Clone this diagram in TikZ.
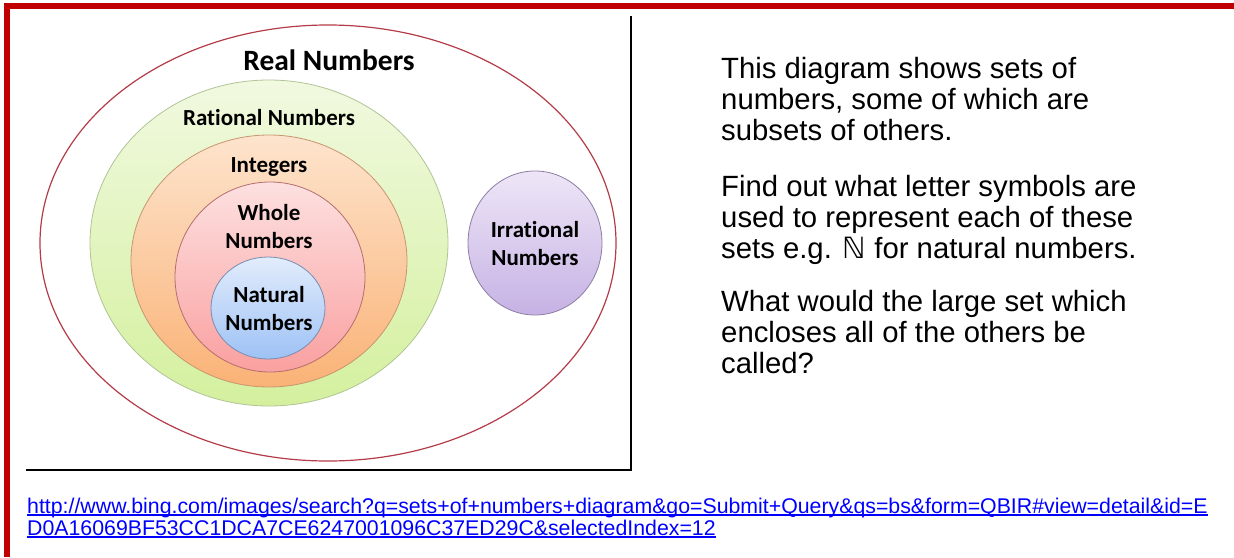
\documentclass[tikz,border=0pt]{standalone}
\usepackage{fontspec}
\setmainfont{Liberation Sans}
\newfontfamily\calfont{Carlito}[Ligatures=NoCommon]
\newfontfamily\djv{DejaVu Sans}
\usetikzlibrary{shapes.geometric}
\definecolor{frame}{RGB}{192,0,0}
\definecolor{realedge}{RGB}{180,60,72}
\definecolor{gtop}{RGB}{241,249,224}
\definecolor{gbot}{RGB}{212,240,158}
\definecolor{gedge}{RGB}{176,196,150}
\definecolor{otop}{RGB}{253,228,205}
\definecolor{obot}{RGB}{250,178,118}
\definecolor{oedge}{RGB}{200,150,110}
\definecolor{ptop}{RGB}{253,224,224}
\definecolor{pbot}{RGB}{250,160,160}
\definecolor{pedge}{RGB}{180,110,110}
\definecolor{btop}{RGB}{226,236,252}
\definecolor{bbot}{RGB}{158,194,245}
\definecolor{bedge}{RGB}{120,140,175}
\definecolor{vtop}{RGB}{238,230,247}
\definecolor{vbot}{RGB}{198,178,228}
\definecolor{vedge}{RGB}{140,125,165}
\definecolor{link}{RGB}{0,0,255}
\tikzset{
  setshape/.style={ellipse, inner sep=0pt, line width=0.8pt},
  lab/.style={font=\calfont\bfseries\fontsize{23}{28}\selectfont, align=center, anchor=base, inner sep=0pt},
  body/.style={font=\fontsize{29.3}{31.3}\selectfont, align=left, anchor=base west, inner sep=0pt},
  url/.style={font=\fontsize{21.3}{24}\selectfont, text=link, anchor=base west, inner sep=0pt},
}
\begin{document}
\begin{tikzpicture}[x=1pt,y=-1pt]
\useasboundingbox[fill=white] (0,0) rectangle (1234,557);
% red frame
\fill[frame] (4,3) rectangle (1234,8.5);
\fill[frame] (4,3) rectangle (9.5,557);
% picture frame lines
\coordinate (ftop) at (631,16);
\coordinate (fcorner) at (631,470);
\coordinate (fleft) at (26,470);
\draw[line width=1.3pt] (ftop) -- (fcorner) -- (fleft);
% sets
\node[setshape, draw=realedge, line width=1.2pt, minimum width=576pt, minimum height=436pt] (real) at (328,243) {};
\node[setshape, draw=gedge, top color=gtop, bottom color=gbot, minimum width=358pt, minimum height=326pt] (rational) at (269,243) {};
\node[setshape, draw=oedge, top color=otop, bottom color=obot, minimum width=276pt, minimum height=252pt] (integers) at (269,261) {};
\node[setshape, draw=pedge, top color=ptop, bottom color=pbot, minimum width=190pt, minimum height=190pt] (whole) at (270,277) {};
\node[setshape, draw=bedge, top color=btop, bottom color=bbot, minimum width=114pt, minimum height=102pt] (natural) at (268,308) {};
\node[setshape, draw=vedge, top color=vtop, bottom color=vbot, minimum width=134pt, minimum height=144pt] (irrational) at (535,243) {};
% labels (multi-line nodes are anchored at the baseline of their last line)
\node[lab, font=\calfont\bfseries\fontsize{29.5}{34}\selectfont] (lreal) at (329,70) {Real Numbers};
\node[lab] (lrational) at (269,125) {Rational Numbers};
\node[lab] (lintegers) at (269,172) {Integers};
\node[lab] (lwhole) at (269,248) {Whole\\Numbers};
\node[lab] (lnatural) at (269,330) {Natural\\Numbers};
\node[lab] (lirrational) at (535,265) {Irrational\\Numbers};
% text
\node[body] (p1) at (721,140.6) {This diagram shows sets of\\numbers, some of which are\\subsets of others.};
\node[body] (p2) at (721,258.6) {Find out what letter symbols are\\used to represent each of these\\sets e.g. {\djv ℕ} for natural numbers.};
\node[body] (p3) at (721,373.6) {What would the large set which\\encloses all of the others be\\called?};
% url
\node[url] (u1) at (27,513) {http://www.bing.com/images/search?q=sets+of+numbers+diagram\&go=Submit+Query\&qs=bs\&form=QBIR\#view=detail\&id=E};
\node[url] (u2) at (27,535) {D0A16069BF53CC1DCA7CE6247001096C37ED29C\&selectedIndex=12};
\draw[link, line width=1.5pt] ([yshift=-2.2pt]u1.base west) -- ([yshift=-2.2pt]u1.base east);
\draw[link, line width=1.5pt] ([yshift=-2.2pt]u2.base west) -- ([yshift=-2.2pt]u2.base east);
\end{tikzpicture}
\end{document}
